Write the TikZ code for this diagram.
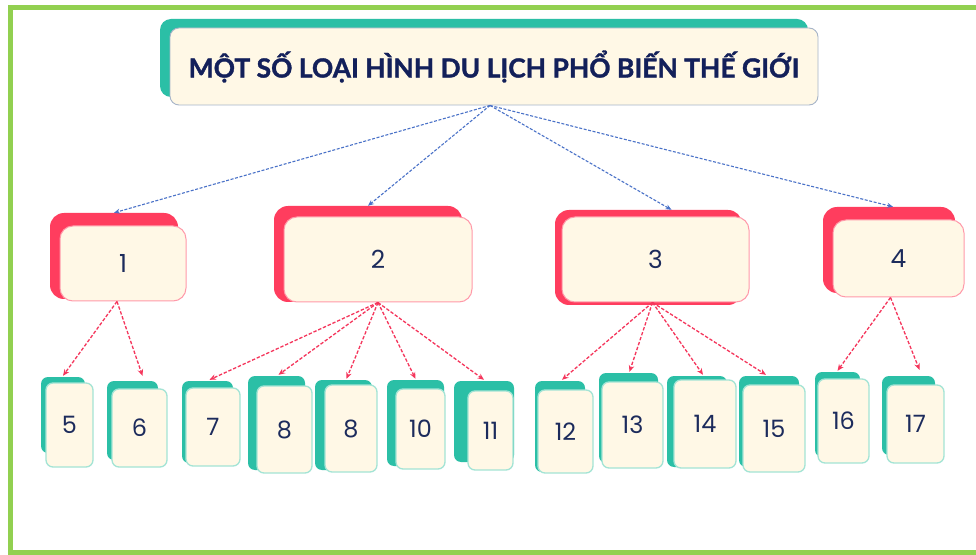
\documentclass[tikz,border=0pt]{standalone}
\usepackage{fontspec}
\newfontfamily\titlefont{Lato}[BoldFeatures={FakeBold=1.3}]
\newfontfamily\numfont{Poppins}
\usetikzlibrary{arrows.meta}
\definecolor{frameg}{HTML}{92D050}
\definecolor{tealc}{HTML}{2BBFA6}
\definecolor{redc}{HTML}{FF3D5E}
\definecolor{cream}{HTML}{FFF8E6}
\definecolor{pinkb}{HTML}{FF9AAA}
\definecolor{leafb}{HTML}{A3E4D5}
\definecolor{titleb}{HTML}{A6B4C8}
\definecolor{navy}{HTML}{1C2B5C}
\definecolor{titlenavy}{HTML}{13205A}
\definecolor{bluea}{HTML}{4A72C8}
\definecolor{reda}{HTML}{F5365C}
\newcommand\mkbox[7]{%
  \node[#1, minimum width={(#5-#3)*1bp}, minimum height={(#6-#4)*1bp}] (#2) at ({(#3+#5)/2},{(#4+#6)/2}) {#7};}
\tikzset{
  titleback/.style={fill=tealc, rounded corners=11bp, inner sep=0pt},
  titlefront/.style={draw=titleb, line width=0.9bp, fill=cream, rounded corners=9bp, inner sep=0pt,
     font=\titlefont\bfseries\fontsize{26.5}{30}\selectfont, text=titlenavy},
  redback/.style={fill=redc, rounded corners=14bp, inner sep=0pt},
  lonefront/.style={draw=pinkb, line width=1bp, fill=cream, rounded corners=13bp, inner sep=0pt,
     font=\numfont\fontsize{25}{28}\selectfont, text=navy},
  tealback/.style={fill=tealc, rounded corners=7bp, inner sep=0pt},
  leaffront/.style={draw=leafb, line width=1.3bp, fill=cream, rounded corners=7bp, inner sep=0pt,
     font=\numfont\fontsize{24}{28}\selectfont, text=navy},
  bluearrow/.style={draw=bluea, line width=1.1bp, dash pattern=on 3bp off 1.6bp,
     -{Stealth[length=6bp,width=5bp]}},
  redarrow/.style={draw=reda, line width=1.3bp, dash pattern=on 3.4bp off 1.8bp,
     -{Stealth[length=6.5bp,width=5.5bp]}},
}
\begin{document}
\begin{tikzpicture}[x=1bp,y=-1bp]
\useasboundingbox (0,0) rectangle (976,555);
\fill[white] (0,0) rectangle (976,555);
% frame
\draw[frameg, line width=5bp] (10.5,7.5) rectangle (995,552.5);
% title
\mkbox{titleback}{k0}{160}{19}{808}{97}{}
\mkbox{titlefront}{t}{170}{28}{818}{105}{MỘT SỐ LOẠI HÌNH DU LỊCH PHỔ BIẾN THẾ GIỚI}
% level 1
\mkbox{redback}{k1}{50}{213}{178}{299}{}
\mkbox{lonefront}{n1}{60}{226}{186}{301}{1}
\mkbox{redback}{k2}{274}{206}{462}{302}{}
\mkbox{lonefront}{n2}{284}{217}{472}{302}{2}
\mkbox{redback}{k3}{555}{210}{742}{305}{}
\mkbox{lonefront}{n3}{562}{217}{749}{302}{3}
\mkbox{redback}{k4}{823}{207}{955}{293}{}
\mkbox{lonefront}{n4}{833}{220}{964}{297}{4}
% leaves
\mkbox{tealback}{k5}{41}{377}{85}{453}{}
\mkbox{leaffront}{n5}{46}{383}{93}{467}{5}
\mkbox{tealback}{k6}{107}{381}{158}{460}{}
\mkbox{leaffront}{n6}{112}{389}{167}{467}{6}
\mkbox{tealback}{k7}{182}{381}{233}{463}{}
\mkbox{leaffront}{n7}{186}{388}{240}{466}{7}
\mkbox{tealback}{k8}{248}{376}{305}{470}{}
\mkbox{leaffront}{n8}{257}{386}{312}{473}{8}
\mkbox{tealback}{k9}{315}{380}{372}{470}{}
\mkbox{leaffront}{n9}{325}{385}{377}{472}{8}
\mkbox{tealback}{k10}{387}{380}{444}{466}{}
\mkbox{leaffront}{n10}{396}{389}{445}{469}{10}
\mkbox{tealback}{k11}{454}{381}{514}{462}{}
\mkbox{leaffront}{n11}{468}{391}{513}{470}{11}
\mkbox{tealback}{k12}{535}{381}{585}{472}{}
\mkbox{leaffront}{n12}{538}{390}{593}{473}{12}
\mkbox{tealback}{k13}{599}{373}{658}{463}{}
\mkbox{leaffront}{n13}{602}{382}{663}{468}{13}
\mkbox{tealback}{k14}{667}{376}{727}{467}{}
\mkbox{leaffront}{n14}{674}{380}{736}{468}{14}
\mkbox{tealback}{k15}{739}{376}{799}{467}{}
\mkbox{leaffront}{n15}{743}{385}{805}{472}{15}
\mkbox{tealback}{k16}{815}{372}{860}{457}{}
\mkbox{leaffront}{n16}{818}{379}{869}{463}{16}
\mkbox{tealback}{k17}{882}{376}{935}{455}{}
\mkbox{leaffront}{n17}{887}{385}{944}{463}{17}
% title -> level 1
\draw[bluearrow] ([xshift=-4bp]t.south) -- (k1.north);
\draw[bluearrow] ([xshift=-4bp]t.south) -- (k2.north);
\draw[bluearrow] ([xshift=-4bp]t.south) -- ([xshift=23bp]k3.north);
\draw[bluearrow] ([xshift=-4bp]t.south) -- ([xshift=4bp]k4.north);
% level 1 -> leaves
\draw[redarrow] ([xshift=-6bp]n1.south) -- ([yshift=1bp]k5.north);
\draw[redarrow] ([xshift=-6bp]n1.south) -- ([xshift=10bp,yshift=5bp]k6.north);
\draw[redarrow] (n2.south) -- ([xshift=2bp,yshift=1bp]k7.north);
\draw[redarrow] (n2.south) -- ([xshift=2bp,yshift=1bp]k8.north);
\draw[redarrow] (n2.south) -- ([xshift=3bp,yshift=1bp]k9.north);
\draw[redarrow] (n2.south) -- ([yshift=1bp]k10.north);
\draw[redarrow] (n2.south) -- ([yshift=1bp]k11.north);
\draw[redarrow] ([xshift=-3bp]n3.south) -- ([xshift=2bp,yshift=1bp]k12.north);
\draw[redarrow] ([xshift=-3bp]n3.south) -- ([xshift=1bp,yshift=1bp]k13.north);
\draw[redarrow] ([xshift=-3bp]n3.south) -- ([xshift=6bp,yshift=1bp]k14.north);
\draw[redarrow] ([xshift=-3bp]n3.south) -- ([xshift=-3bp,yshift=1bp]k15.north);
\draw[redarrow] ([xshift=-8bp]n4.south) -- ([yshift=1bp]k16.north);
\draw[redarrow] ([xshift=-8bp]n4.south) -- ([xshift=11bp,yshift=6bp]k17.north);
\end{tikzpicture}
\end{document}
